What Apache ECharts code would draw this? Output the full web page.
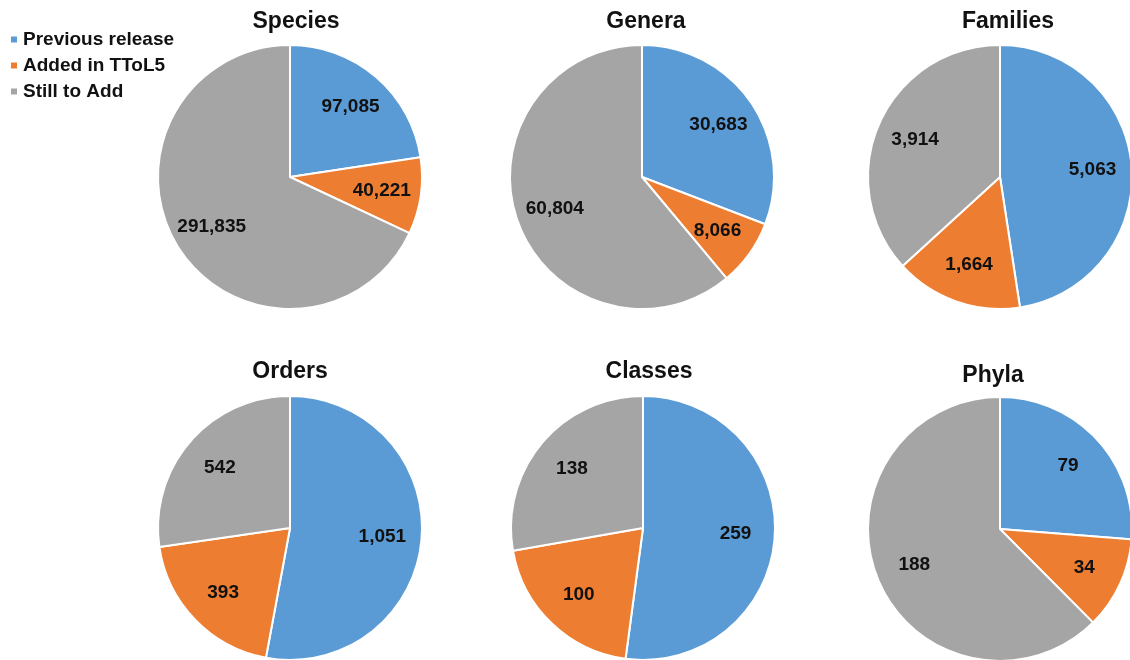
<!DOCTYPE html>
<html>
<head>
<meta charset="utf-8">
<script src="https://cdn.jsdelivr.net/npm/echarts@6/dist/echarts.min.js"></script>
<style>
html,body{margin:0;padding:0;background:#fff;}
#chart{width:1130px;height:660px;}
</style>
</head>
<body>
<div id="chart"></div>
<script>
const categories = ['Previous release', 'Added in TToL5', 'Still to Add'];
const panelTitles = ['Species', 'Genera', 'Families', 'Orders', 'Classes', 'Phyla'];
const species = [97085, 40221, 291835];
const genera = [30683, 8066, 60804];
const families = [5063, 1664, 3914];
const orders = [1051, 393, 542];
const classes = [259, 100, 138];
const phyla = [79, 34, 188];

const panelValues = [species, genera, families, orders, classes, phyla];
const colors = ['#5B9BD5', '#ED7D31', '#A5A5A5'];

// layout (pixels)
const centers = [[290, 177], [642, 177], [1000, 177], [290, 528], [643, 528], [1000, 529]];
const titlePos = [[296, 10], [646, 10], [1008, 10], [290, 360], [649, 360], [993, 364]];
const R = 132;
const FONT = 'Arial, "Liberation Sans", Helvetica, sans-serif';

const fmt = v => Number(v).toLocaleString('en-US');

const chart = echarts.init(document.getElementById('chart'), null, {renderer: 'canvas'});

const series = [];
const titles = [];
panelValues.forEach((vals, i) => {
  const data = categories.map((c, k) => ({name: c, value: vals[k]}));
  series.push({
    type: 'pie',
    center: centers[i],
    radius: [0, R],
    startAngle: 90,
    clockwise: true,
    animation: false,
    data: data,
    itemStyle: {borderColor: '#fff', borderWidth: 2},
    label: {show: false},
    labelLine: {show: false},
    emphasis: {disabled: true}
  });
  // transparent overlay ring used only to place value labels
  series.push({
    type: 'pie',
    center: centers[i],
    radius: [R * 0.36, R],
    startAngle: 90,
    clockwise: true,
    animation: false,
    silent: true,
    legendHoverLink: false,
    data: data,
    itemStyle: {color: 'rgba(0,0,0,0)', borderWidth: 0},
    label: {
      show: true,
      position: 'inside',
      formatter: p => fmt(p.value),
      color: '#111',
      fontWeight: 'bold',
      fontSize: 19,
      fontFamily: FONT
    },
    labelLine: {show: false},
    emphasis: {disabled: true}
  });
  titles.push({
    text: panelTitles[i],
    left: titlePos[i][0],
    top: titlePos[i][1],
    textAlign: 'center',
    padding: 0,
    textStyle: {fontSize: 23, fontWeight: 'bold', color: '#111', fontFamily: FONT}
  });
});

chart.setOption({
  backgroundColor: '#fff',
  color: colors,
  title: titles,
  legend: {
    orient: 'vertical',
    left: 9,
    top: 30,
    padding: 0,
    itemWidth: 8,
    itemHeight: 8,
    itemGap: 7,
    icon: 'rect',
    data: categories,
    textStyle: {fontSize: 19, fontWeight: 'bold', color: '#111', fontFamily: FONT, lineHeight: 19}
  },
  series: series
});
</script>
</body>
</html>
